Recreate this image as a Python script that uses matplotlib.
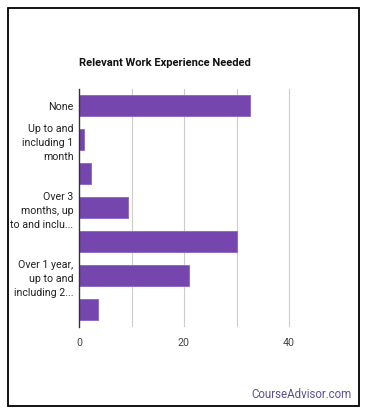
import matplotlib
matplotlib.use("Agg")
from matplotlib import pyplot as plt
from matplotlib.patches import Rectangle

plt.rcParams['font.family'] = ['Roboto', 'DejaVu Sans']

# categories top to bottom, labels shown only on every other one
categories = ['None', 'Up to and including 1 month', 'Over 1 month, up to and including 3 months',
              'Over 3 months, up to and including 6 months', 'Over 6 months, up to and including 1 year',
              'Over 1 year, up to and including 2 years', 'Over 2 years, up to and including 4 years']
shown_labels = ['None', 'Up to and\nincluding 1\nmonth', '', 'Over 3\nmonths, up\nto and inclu...', '',
                'Over 1 year,\nup to and\nincluding 2...', '']
values = [32.6, 1.0, 2.3, 9.4, 30.0, 21.0, 3.7]

W, H = 370, 417
fig = plt.figure(figsize=(W / 100, H / 100), dpi=100)

# outer frame
fig.patches.append(Rectangle((8 / W, 1 - 406 / H), (359 - 8) / W, (406 - 8) / H,
                             transform=fig.transFigure, fill=False, edgecolor='black', linewidth=1.3))

left, right = 79, 341.5
top, bottom = 88.5, 326.5
ax = fig.add_axes([left / W, 1 - bottom / H, (right - left) / W, (bottom - top) / H])

ypos = list(range(len(categories)))
ax.barh(ypos, values, height=0.62, color='#7446ae', edgecolor='#8a64c0', linewidth=0.6, zorder=3)
ax.set_ylim(len(categories) - 0.5, -0.5)
ax.set_xlim(0, 50)
ax.set_yticks(ypos)
ax.set_yticklabels(shown_labels, fontsize=7.7, color='#222222', linespacing=1.5)
ax.set_xticks([0, 20, 40])
ax.set_xticklabels(['0', '20', '40'], fontsize=7.7, color='#444444')
for g in [10, 20, 30, 40]:
    ax.axvline(g, color='#cccccc', linewidth=0.8, zorder=1)
ax.tick_params(axis='both', length=0, pad=4)
ax.tick_params(axis='x', pad=8)
for s in ['top', 'right', 'bottom']:
    ax.spines[s].set_visible(False)
ax.spines['left'].set_color('#333333')
ax.spines['left'].set_linewidth(1)
ax.spines['left'].set_zorder(4)

fig.text(79 / W, 1 - 63 / H, 'Relevant Work Experience Needed', fontsize=8, fontweight='bold',
         color='#111111', ha='left', va='center')
fig.text(352 / W, 1 - 394 / H, 'CourseAdvisor.com', fontsize=8.3, color='#5d4f93',
         ha='right', va='center')

fig.savefig('out.png', dpi=100)
